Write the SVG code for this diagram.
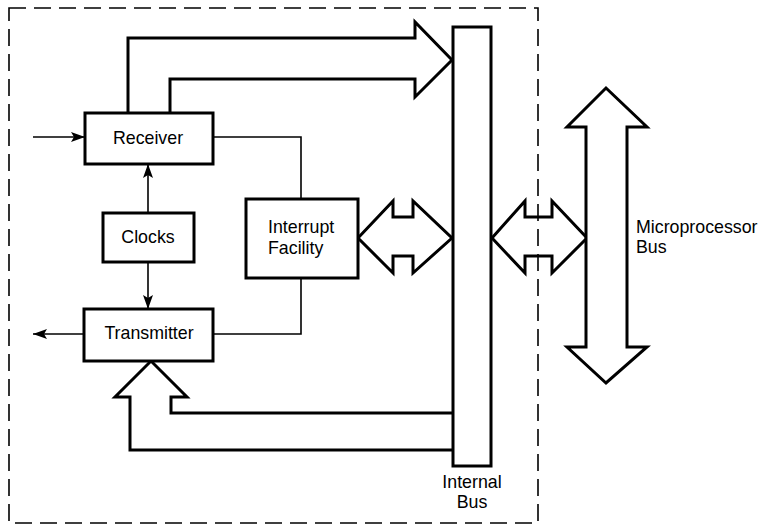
<svg xmlns="http://www.w3.org/2000/svg" width="762" height="524" viewBox="0 0 762 524">
<style>
.box{fill:#fff;stroke:#000;stroke-width:3}
.fat{fill:#fff;stroke:#000;stroke-width:3;stroke-linejoin:miter}
.thin{fill:none;stroke:#000;stroke-width:1.6}
.dash{fill:none;stroke:#000;stroke-width:1.6;stroke-dasharray:17 8}
text{font-family:"Liberation Sans",Arial,Helvetica,sans-serif;font-size:17.8px;fill:#000}
.c{text-anchor:middle}
</style>
<defs>
<marker id="ah" viewBox="0 0 14 10" refX="14" refY="5" markerWidth="14" markerHeight="10" markerUnits="userSpaceOnUse" orient="auto">
<path d="M0,0 L14,5 L0,10 L3,5 Z" fill="#000"/>
</marker>
</defs>
<g id="connectors">
<path class="fat" d="M128,113 V38 H415 V22 L452,60 L415,97 V79 H170 V113"/>
<path class="fat" d="M453,450 H130 V397 H115 L151,361 L187,397 H171 V413 H453"/>
<path class="fat" d="M358,238 L393,201 V217 H413 V201 L452,238 L413,273 V256 H393 V273 Z"/>
<path class="fat" d="M492,238 L525,201 V217 H552 V201 L587,238 L552,273 V256 H525 V273 Z"/>
<path class="thin" d="M213,137 H301 V199"/>
<path class="thin" d="M213,334 H301 V278"/>
<line class="thin" x1="33" y1="137" x2="85" y2="137" marker-end="url(#ah)"/>
<line class="thin" x1="84" y1="334" x2="33" y2="334" marker-end="url(#ah)"/>
<line class="thin" x1="148" y1="213" x2="148" y2="164" marker-end="url(#ah)"/>
<line class="thin" x1="148" y1="262" x2="148" y2="309" marker-end="url(#ah)"/>
</g>
<rect id="boundary" class="dash" x="9" y="8" width="529" height="515"/>
<g id="receiver">
<rect class="box" x="85" y="113" width="128" height="51"/>
<text class="c" x="148" y="144">Receiver</text>
</g>
<g id="clocks">
<rect class="box" x="103" y="213" width="91" height="49"/>
<text class="c" x="148" y="243">Clocks</text>
</g>
<g id="interrupt">
<rect class="box" x="246" y="199" width="112" height="79"/>
<text x="268" y="233">Interrupt</text>
<text x="268" y="254">Facility</text>
</g>
<g id="transmitter">
<rect class="box" x="84" y="309" width="129" height="52"/>
<text class="c" x="149" y="339">Transmitter</text>
</g>
<g id="internal-bus">
<rect class="box" x="453" y="27" width="38" height="439"/>
<text class="c" x="472" y="488">Internal</text>
<text class="c" x="472" y="508">Bus</text>
</g>
<g id="microprocessor-bus">
<path class="fat" d="M606,88 L647,127 H627 V347 H647 L606,383 L567,347 H586 V127 H567 Z"/>
<text x="636" y="233">Microprocessor</text>
<text x="636" y="253">Bus</text>
</g>
</svg>
